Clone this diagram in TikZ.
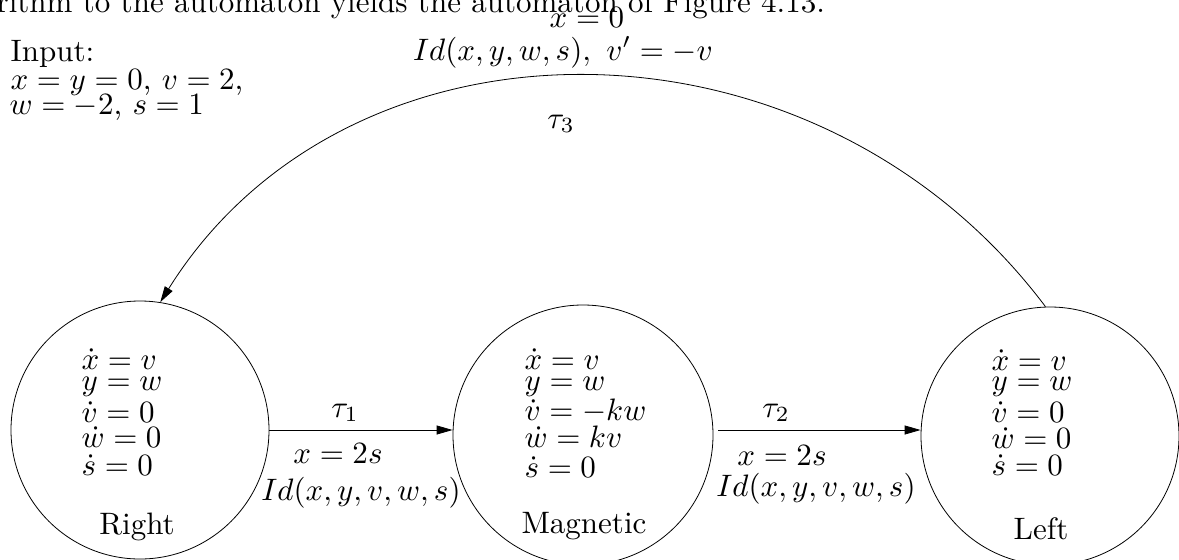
\documentclass[tikz,border=0pt]{standalone}
\usetikzlibrary{arrows.meta}
\begin{document}
\begin{tikzpicture}[x=1pt,y=-1pt,
  txt/.style={inner sep=0pt, scale=3.1},
  state/.style={draw, circle, inner sep=0pt, minimum size=258pt, line width=0.8pt},
  eq/.style={txt, anchor=base west},
  lbl/.style={txt, anchor=base},
  arr/.style={line width=0.8pt, -{Triangle[length=16pt,width=9pt]}}]
\useasboundingbox (0,0) rectangle (1179,560);
\clip (0,0) rectangle (1179,560);

% clipped line of body text at the top
\node[eq] (toptext) at (-4,12) {rithm to the automaton yields the automaton of Figure 4.13.};

% input
\node[eq] (inp1) at (10,61) {Input:};
\node[eq] (inp2) at (10,89) {$x = y = 0$, $v = 2$,};
\node[eq] (inp3) at (9,114) {$w = -2$, $s = 1$};

% states
\node[state] (Right) at (140,430) {};
\node[state, minimum size=260pt] (Magnetic) at (583,435) {};
\node[state] (Left) at (1050,436) {};

% Right
\node[eq] (r1) at (81,369) {$\dot x = v$};
\node[eq] (r2) at (81,390) {$y = w$};
\node[eq] (r3) at (81,422) {$\dot v = 0$};
\node[eq] (r4) at (81,447) {$\dot w = 0$};
\node[eq] (r5) at (81,475) {$\dot s = 0$};
\node[lbl] (rname) at (137,534) {Right};

% Magnetic
\node[eq] (m1) at (524,369) {$\dot x = v$};
\node[eq] (m2) at (524,390) {$y = w$};
\node[eq] (m3) at (524,420) {$\dot v = -kw$};
\node[eq] (m4) at (524,447) {$\dot w = kv$};
\node[eq] (m5) at (524,477) {$\dot s = 0$};
\node[lbl] (mname) at (584,533) {Magnetic};

% Left
\node[eq] (l1) at (991,370) {$\dot x = v$};
\node[eq] (l2) at (991,390) {$y = w$};
\node[eq] (l3) at (991,422) {$\dot v = 0$};
\node[eq] (l4) at (991,448) {$\dot w = 0$};
\node[eq] (l5) at (991,475) {$\dot s = 0$};
\node[lbl] (lname) at (1041,539) {Left};

% transitions
\draw[arr] (Right.east |- 0,430) -- (Magnetic.west |- 0,430);
\draw[arr] ([xshift=5pt]Magnetic.east |- 0,430) -- (Left.west |- 0,430);
\draw[arr] (Left.92) .. controls (815,0) and (349,0) .. (Right.81);

% transition labels
\node[lbl] (t1) at (345,417) {$\tau_1$};
\node[lbl] (g1) at (338,463) {$x = 2s$};
\node[lbl] (a1) at (361,500) {$Id(x,y,v,w,s)$};
\node[lbl] (t2) at (776,417) {$\tau_2$};
\node[lbl] (g2) at (782,465) {$x = 2s$};
\node[lbl] (a2) at (816,496) {$Id(x,y,v,w,s)$};
\node[lbl] (g3) at (587,27) {$x = 0$};
\node[lbl] (a3) at (563,60) {$Id(x,y,w,s),\ v' = -v$};
\node[lbl] (t3) at (561,128) {$\tau_3$};
\end{tikzpicture}
\end{document}
